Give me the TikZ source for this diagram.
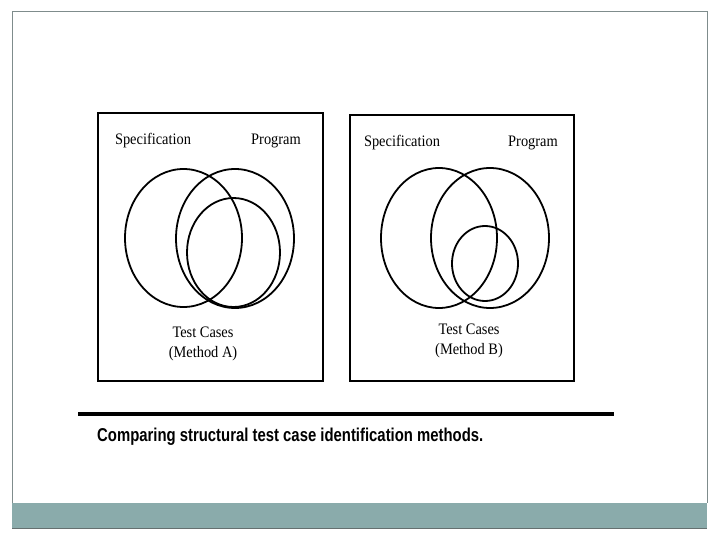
\documentclass[tikz,border=0pt]{standalone}
\usepackage{fontspec}
\setmainfont[FakeStretch=0.9]{Liberation Serif}
\newfontfamily\capfont[FakeStretch=0.8]{Liberation Sans}
\definecolor{slideframe}{HTML}{7F8C8C}
\definecolor{slidebar}{HTML}{8AABAB}
\begin{document}
\begin{tikzpicture}[x=1pt,y=-1pt,font=\fontsize{16}{20}\selectfont,
  venn/.style={line width=1.8pt},
  panel/.style={line width=1.8pt},
  lbl/.style={inner sep=0pt}]
 \useasboundingbox (0,0) rectangle (720,540);
 % slide frame and bottom bar
 \draw[slideframe,line width=1pt] (12,503) -- (12,12) -- (707,12) -- (707,503);
 \fill[slidebar] (12,503) rectangle (707,528);
 \draw[slideframe!80!black,line width=.8pt] (12,528) -- (707,528);
 % method A
 \draw[panel] (98,113) rectangle (323,381);
 \node[lbl] (specA) at (153,141) {Specification};
 \node[lbl] (progA) at (276,141) {Program};
 \draw[venn] (183.5,238) ellipse (58.5 and 69);
 \draw[venn] (235,238.5) ellipse (59 and 69.5);
 \draw[venn] (233.5,252.5) ellipse (46.5 and 54.5);
 \node[lbl,align=center] (testA) at (203,344) {Test Cases\\(Method A)};
 % method B
 \draw[panel] (350,115) rectangle (574,381);
 \node[lbl] (specB) at (402,143) {Specification};
 \node[lbl] (progB) at (533,143) {Program};
 \draw[venn] (439,238) ellipse (58 and 70);
 \draw[venn] (490,238) ellipse (59 and 70);
 \draw[venn] (485,263.5) ellipse (33 and 37.5);
 \node[lbl,align=center] (testB) at (469,341) {Test Cases\\(Method B)};
 % caption
 \draw[line width=4pt] (78,414) -- (614,414);
 \node[lbl,anchor=west] (caption) at (97,437)
   {\capfont\bfseries\fontsize{18.6}{20}\selectfont Comparing structural test case identification methods.};
\end{tikzpicture}
\end{document}
